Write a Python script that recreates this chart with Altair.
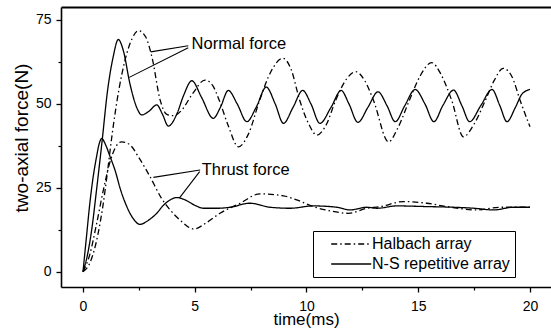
import altair as alt
import pandas as pd

# ---- data ----
NS_NORMAL_T = [0, 0.2, 0.4, 0.6, 0.84, 1.1, 1.35, 1.58, 1.8, 2.1, 2.4, 2.63, 2.95, 3.3, 3.55, 3.82,
               4.2, 4.5, 4.87, 5.3, 5.83, 6.15, 6.5, 6.9, 7.33, 7.75, 8.2, 8.6, 8.97, 9.4, 9.83,
               10.2, 10.6, 11.1, 11.55, 11.9, 12.3, 12.75, 13.2, 13.6, 13.97, 14.4, 14.86, 15.3,
               15.7, 16.1, 16.58, 16.95, 17.3, 17.8, 18.3, 18.65, 18.97, 19.35, 19.65, 20]
NS_NORMAL_F = [0, 5, 13, 24, 38, 54, 64, 69.2, 66, 56, 49, 46.7, 47.8, 49.7, 47, 43.4,
               47, 52.5, 56.9, 52, 45.7, 49, 54, 50, 44.7, 49, 55, 50, 44.2, 49, 54,
               50, 44.2, 49, 54, 50, 44.5, 49, 53.6, 49.5, 44.7, 49.5, 54.3, 50,
               44.7, 49.5, 54.1, 49.5, 44.7, 49.5, 54.3, 49.5, 44.7, 49, 53, 54.3]

HB_NORMAL_T = [0, 0.3, 0.6, 0.9, 1.1, 1.28, 1.6, 1.88, 2.2, 2.48, 2.8, 3.1, 3.45, 3.75, 4.05, 4.4,
               4.9, 5.46, 5.8, 6.1, 6.5, 6.95, 7.4, 7.9, 8.4, 8.94, 9.3, 9.7, 10.1, 10.46, 10.9,
               11.3, 11.8, 12.2, 12.6, 13.0, 13.67, 14.1, 14.6, 15.1, 15.6, 16.0, 16.5, 17.02,
               17.5, 18.0, 18.4, 18.8, 19.2, 19.56, 20]
HB_NORMAL_F = [0, 2.5, 9, 20, 30, 39.7, 54, 63, 69.5, 71.8, 70, 63.5, 51.2, 46.9, 46.5, 48,
               53, 57.1, 55.5, 51, 43.5, 37.2, 41, 51, 59.5, 63.6, 60.5, 51, 44, 40.7, 44,
               51, 57.5, 59.6, 57, 51, 38.7, 43, 51, 58.5, 62.3, 59, 51, 40.2,
               44, 51, 57, 60.6, 58, 51, 43.2]

NS_THRUST_T = [0, 0.15, 0.3, 0.45, 0.6, 0.72, 0.84, 1.0, 1.2, 1.43, 1.7, 1.96, 2.25, 2.55, 2.9,
               3.3, 3.6, 3.9, 4.19, 4.6, 5.0, 5.39, 6.0, 6.58, 7.47, 8.37, 9.27, 10.3, 11.36,
               11.95, 12.7, 13.15, 14.04, 15.38, 16.58, 17.5, 18.37, 19.26, 20]
NS_THRUST_F = [0, 10, 20, 28, 34, 38, 39.7, 38, 34.5, 30.3, 24, 19.4, 15.8, 14.1, 15.2,
               17.4, 19.8, 21.4, 22.1, 21.3, 19.8, 18.9, 18.9, 19.2, 20.4, 19.2, 18.9, 19.6, 19.2,
               18.4, 19.2, 18.9, 19.6, 19.4, 19.2, 18.9, 18.4, 19.2, 19.2]

HB_THRUST_T = [0, 0.3, 0.6, 0.9, 1.2, 1.45, 1.73, 2.1, 2.5, 3.0, 3.5, 3.9, 4.34, 4.97, 5.5, 6.13,
               7.03, 7.92, 8.97, 9.56, 10.3, 11.0, 11.88, 12.7, 13.3, 14.34, 15.38, 16.28, 17.6,
               18.66, 20]
HB_THRUST_F = [0, 5, 14, 24, 32.5, 37, 38.7, 37.8, 34, 28.3, 22, 18.4, 15.4, 12.7, 14.5, 17.4,
               20.4, 23.2, 22.6, 21.4, 19.4, 18.2, 17.4, 18.9, 19.4, 20.9, 20.4, 19.4, 18.4,
               19.2, 19.2]

ARRAYS = ["Halbach array", "N-S repetitive array"]

X_TICKS = [0, 5, 10, 15, 20]
X_MINOR = [2.5, 7.5, 12.5, 17.5]
Y_TICKS = [0, 25, 50, 75]
Y_MINOR = [12.5, 37.5, 62.5]

ANN_LABELS = ["Normal force", "Thrust force"]
ANN_LABEL_T = [4.86, 5.31]
ANN_LABEL_F = [67.7, 30.3]
# annotation leader lines: start (t, F) -> end (t2, F2)
ANN_T = [4.71, 4.71, 5.24, 5.22]
ANN_F = [67.3, 66.7, 30.3, 29.8]
ANN_T2 = [3.03, 2.07, 3.15, 4.31]
ANN_F2 = [65.5, 57.9, 28.1, 21.9]

FONT = "Liberation Sans"

rows = []
for arr, kind, ts, fs in [
    (ARRAYS[1], "normal", NS_NORMAL_T, NS_NORMAL_F),
    (ARRAYS[0], "normal", HB_NORMAL_T, HB_NORMAL_F),
    (ARRAYS[1], "thrust", NS_THRUST_T, NS_THRUST_F),
    (ARRAYS[0], "thrust", HB_THRUST_T, HB_THRUST_F),
]:
    for t, f in zip(ts, fs):
        rows.append({"t": t, "F": f, "array": arr, "series": arr + " " + kind})
df = pd.DataFrame(rows)

ann_df = pd.DataFrame({"t": ANN_T, "F": ANN_F, "t2": ANN_T2, "F2": ANN_F2})
lab_df = pd.DataFrame({"t": ANN_LABEL_T, "F": ANN_LABEL_F, "label": ANN_LABELS})

xscale = alt.Scale(domain=[-0.984, 20.94], nice=False, zero=False)
yscale = alt.Scale(domain=[-4.56, 78.87], nice=False, zero=False)

base = alt.Chart(df)

lines = base.mark_line(color="black", strokeWidth=1.3, interpolate="monotone").encode(
    x=alt.X("t:Q", scale=xscale, axis=alt.Axis(
        orient="bottom", values=X_TICKS, format="d", tickSize=5, tickWidth=1.3,
        labelPadding=7, labelFontSize=14, labelFont=FONT, labelColor="black",
        domainWidth=1.6, domainColor="black", tickColor="black", grid=False,
        title="time(ms)", titleFont=FONT, titleFontSize=17, titleFontWeight="normal",
        titleColor="black", titleY=37.5, titleBaseline="alphabetic")),
    y=alt.Y("F:Q", scale=yscale, axis=alt.Axis(
        orient="left", values=Y_TICKS, format="d", tickSize=5, tickWidth=1.3,
        labelPadding=5, labelFontSize=14, labelFont=FONT, labelColor="black",
        domainWidth=1.6, domainColor="black", tickColor="black", grid=False,
        title="two-axial force(N)", titleFont=FONT, titleFontSize=19,
        titleFontWeight="normal", titleColor="black", titleAngle=270,
        titleX=-33.5, titleY=130.5, titleAlign="center", titleBaseline="alphabetic")),
    strokeDash=alt.StrokeDash("array:N", scale=alt.Scale(
        domain=ARRAYS, range=[[6, 3, 1.5, 3], [1, 0]]),
        legend=alt.Legend(
            orient="none", legendX=252, legendY=224, title=None,
            fillColor="white", strokeColor="black", padding=5,
            symbolType="M1.3,0H11.3", symbolSize=64, symbolStrokeWidth=1.3,
            symbolStrokeColor="black", labelOffset=38, labelFontSize=16,
            labelFont=FONT, labelColor="black", rowPadding=4, labelLimit=400)),
    detail="series:N",
)

minor = base.mark_line(opacity=0).encode(
    x=alt.X("t:Q", scale=xscale, axis=alt.Axis(
        orient="bottom", values=X_MINOR, labels=False, domain=False, tickSize=3,
        tickWidth=1.2, tickColor="black", grid=False, title=None)),
    y=alt.Y("F:Q", scale=yscale, axis=alt.Axis(
        orient="left", values=Y_MINOR, labels=False, domain=False, tickSize=3,
        tickWidth=1.2, tickColor="black", grid=False, title=None)),
    detail="series:N",
)

top = base.mark_line(opacity=0).encode(
    x=alt.X("t:Q", scale=xscale, axis=alt.Axis(
        orient="top", labels=False, ticks=False, domain=True, domainWidth=2,
        domainColor="black", grid=False, title=None)),
    y=alt.Y("F:Q", scale=yscale, axis=None),
    detail="series:N",
)

leaders = alt.Chart(ann_df).mark_rule(color="black", strokeWidth=1.1).encode(
    x=alt.X("t:Q", scale=xscale, axis=None),
    y=alt.Y("F:Q", scale=yscale, axis=None),
    x2="t2:Q",
    y2="F2:Q",
)

labels = alt.Chart(lab_df).mark_text(
    align="left", baseline="middle", font=FONT, fontSize=16.5, color="black"
).encode(
    x=alt.X("t:Q", scale=xscale, axis=None),
    y=alt.Y("F:Q", scale=yscale, axis=None),
    text="label:N",
)

chart = alt.layer(lines, minor, top, leaders, labels).resolve_axis(
    x="independent", y="independent"
).properties(
    width=490, height=280,
    autosize=alt.AutoSizeParams(type="none"),
    padding={"left": 61, "top": 7, "right": 0, "bottom": 42},
    background="white",
).configure_view(stroke=None)

chart.save("out.html", embed_options={"renderer": "svg", "actions": False})
